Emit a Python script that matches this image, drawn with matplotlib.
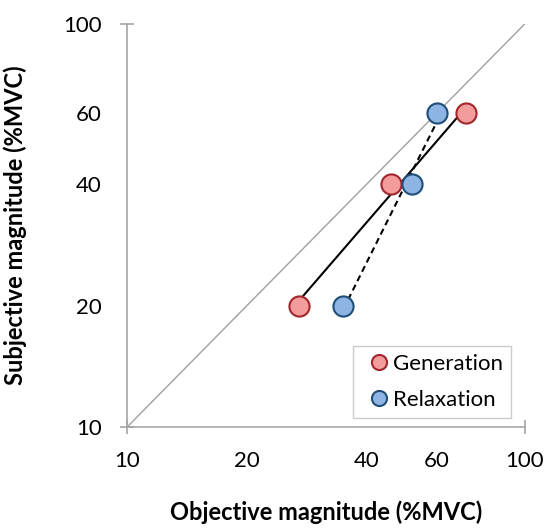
import numpy as np
import matplotlib
matplotlib.use("Agg")
import matplotlib.pyplot as plt
from matplotlib.ticker import FixedLocator, FixedFormatter

plt.rcParams['font.family'] = ['Lato', 'DejaVu Sans']

# Data
gen_x = [27, 46, 71]
gen_y = [20, 40, 60]
rel_x = [35, 52, 60]
rel_y = [20, 40, 60]
major_ticks = [10, 100]
minor_ticks = [20, 40, 60]

fig = plt.figure(figsize=(5.45, 5.30), dpi=100)
ax = fig.add_axes([0.233, 0.194, 0.730, 0.761])
ax.set_xscale('log')
ax.set_yscale('log')
ax.set_xlim(10, 100)
ax.set_ylim(10, 100)

# identity line
ax.plot([10, 100], [10, 100], color='#A0A0A0', lw=1.0, zorder=1)

def fit_line(xs, ys, ls):
    lx, ly = np.log10(xs), np.log10(ys)
    b, a = np.polyfit(lx, ly, 1)
    xx = np.array([min(lx), max(lx)])
    ax.plot(10**xx, 10**(a + b*xx), color='black', lw=1.5, ls=ls, zorder=2)

fit_line(gen_x, gen_y, '-')
fit_line(rel_x, rel_y, (0, (3, 2)))

ax.plot(gen_x, gen_y, 'o', ms=14.5, mfc='#F29C9C', mec='#A3262C', mew=1.5,
        label='Generation', zorder=3)
ax.plot(rel_x, rel_y, 'o', ms=14.5, mfc='#8DB4E2', mec='#1F4E79', mew=1.5,
        label='Relaxation', zorder=3)

for s in ['top', 'right']:
    ax.spines[s].set_visible(False)
for s in ['left', 'bottom']:
    ax.spines[s].set_color('#A6A6A6')
    ax.spines[s].set_linewidth(1.2)

for axis in [ax.xaxis, ax.yaxis]:
    axis.set_major_locator(FixedLocator(major_ticks))
    axis.set_major_formatter(FixedFormatter([str(t) for t in major_ticks]))
    axis.set_minor_locator(FixedLocator(minor_ticks))
    axis.set_minor_formatter(FixedFormatter([str(t) for t in minor_ticks]))

ax.tick_params(which='major', direction='inout', length=10, width=1.2,
               color='#A6A6A6', labelsize=16)
ax.tick_params(which='minor', length=0, labelsize=16)
ax.tick_params(axis='x', which='major', pad=12)
ax.tick_params(axis='x', which='minor', pad=17)
ax.tick_params(axis='y', which='major', pad=13)
ax.tick_params(axis='y', which='minor', pad=18)

ax.set_xlabel('Objective magnitude (%MVC)', fontsize=17, fontweight='bold', labelpad=21)
ax.set_ylabel('Subjective magnitude (%MVC)', fontsize=17, fontweight='bold', labelpad=26)

leg = ax.legend(loc='lower right', bbox_to_anchor=(0.965, 0.024), fontsize=16,
                frameon=True, fancybox=False, edgecolor='#BFBFBF',
                markerscale=0.75, handlelength=1.6, handletextpad=-0.15,
                borderpad=0.35, labelspacing=0.7, borderaxespad=0)
leg.get_frame().set_linewidth(1.0)

fig.savefig('out.png', dpi=100)
